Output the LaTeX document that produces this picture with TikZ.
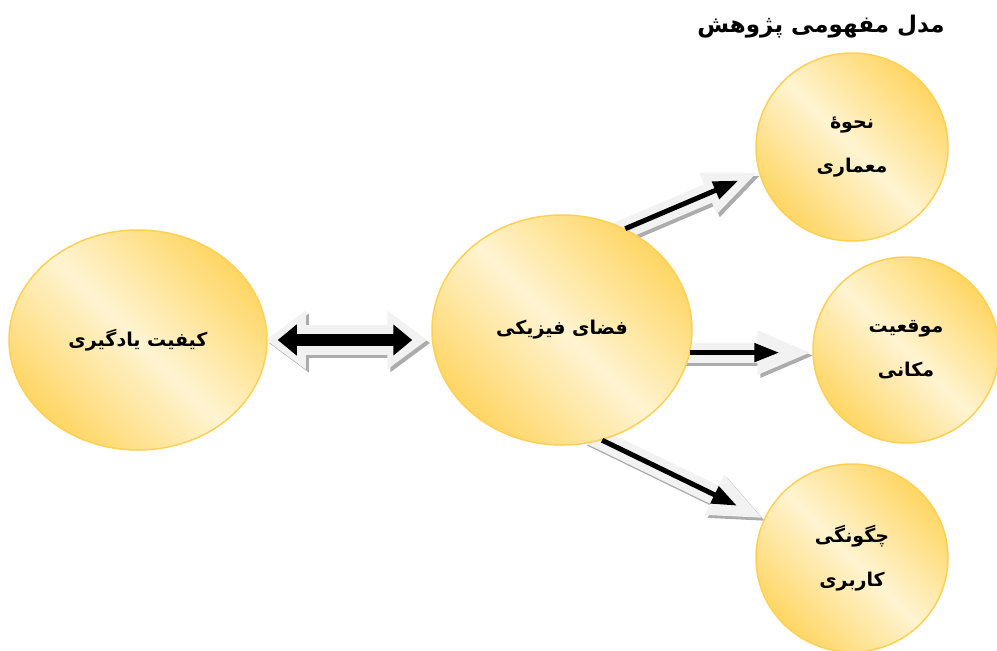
\documentclass[tikz,border=0pt]{standalone}
\usepackage{fontspec}
\usetikzlibrary{shapes.geometric,arrows.meta,backgrounds}
\TeXXeTstate=1
\newfontfamily\farsi[Script=Arabic]{DejaVu Sans}
\definecolor{bubbledark}{RGB}{255,214,100}
\definecolor{bubblelight}{RGB}{255,244,210}
\definecolor{bubbleline}{RGB}{255,208,84}
\definecolor{blockgray}{RGB}{242,242,242}
\definecolor{shadowgray}{RGB}{172,172,172}
\tikzset{
  bubble/.style={ellipse,draw=bubbleline,line width=1.5pt,top color=bubbledark,
    bottom color=bubbledark,middle color=bubblelight,shading angle=-45,
    inner sep=0pt,align=center,font=\farsi\bfseries\fontsize{19pt}{44pt}\selectfont},
  blockarrow/.style={line width=20pt,blockgray,-{Triangle[length=55pt,width=40pt]}},
  blockshadow/.style={blockarrow,shadowgray,transform canvas={shift={(3pt,-3pt)}}},
  blackarrow/.style={line width=5pt,black,-{Triangle[length=25pt,width=18pt]}},
  bigblock/.style={line width=30pt,blockgray,
    {Triangle[length=40pt,width=56pt]}-{Triangle[length=40pt,width=56pt]}},
  bigshadow/.style={bigblock,shadowgray,transform canvas={shift={(3pt,-3pt)}}},
  bigblack/.style={line width=12pt,black,
    {Triangle[length=19pt,width=30pt]}-{Triangle[length=19pt,width=30pt]}}
}
\begin{document}
\begin{tikzpicture}[x=1pt,y=-1pt]
  %\draw[help lines,step=50] (0,0) grid (997,651);
  \useasboundingbox (0,0) rectangle (997,651);
  \node[font=\farsi\bfseries\fontsize{23pt}{28pt}\selectfont] (title) at (821,27)
    {\beginR مدل مفهومی پژوهش\endR};
  \node[bubble,minimum width=258,minimum height=220] (quality) at (138,340)
    {\beginR کیفیت یادگیری\endR};
  \node[bubble,minimum width=260,minimum height=230] (space) at (562,330)
    {\beginR فضای فیزیکی\endR};
  \node[bubble,minimum width=192,minimum height=188] (arch) at (852,147)
    {\beginR نحوهٔ\endR\\\beginR معماری\endR};
  \node[bubble,minimum width=186,minimum height=186] (place) at (906,350)
    {\beginR موقعیت\endR\\\beginR مکانی\endR};
  \node[bubble,minimum width=192,minimum height=188] (usage) at (852,558)
    {\beginR چگونگی\endR\\\beginR کاربری\endR};
  \begin{pgfonlayer}{background}
    % double arrow between the two big ellipses
    \draw[bigshadow,shorten <=-2pt,shorten >=4pt] (quality.east) -- (quality.east -| space.west);
    \draw[bigblock,shorten <=-2pt,shorten >=4pt] (quality.east) -- (quality.east -| space.west);
    \draw[bigblack,shorten <=10pt,shorten >=19pt] (quality.east) -- (quality.east -| space.west);
    % three arrows out of the centre
    \draw[blockshadow,shorten <=-15pt] (space.58) -- (arch.195);
    \draw[blockarrow,shorten <=-15pt] (space.58) -- (arch.195);
    \draw[blockshadow,shorten <=-15pt] (space.-10) -- (space.-10 -| place.west);
    \draw[blockarrow,shorten <=-15pt] (space.-10) -- (space.-10 -| place.west);
    \draw[blockshadow,shorten <=-15pt] (space.-70) -- (usage.156);
    \draw[blockarrow,shorten <=-15pt] (space.-70) -- (usage.156);
  \end{pgfonlayer}
  \draw[blackarrow,shorten >=22pt] (space.58) -- (arch.195);
  \draw[blackarrow,shorten >=33pt] (space.-10) -- (space.-10 -| place.west);
  \draw[blackarrow,shorten >=30pt] (space.-70) -- (usage.156);
\end{tikzpicture}
\end{document}
